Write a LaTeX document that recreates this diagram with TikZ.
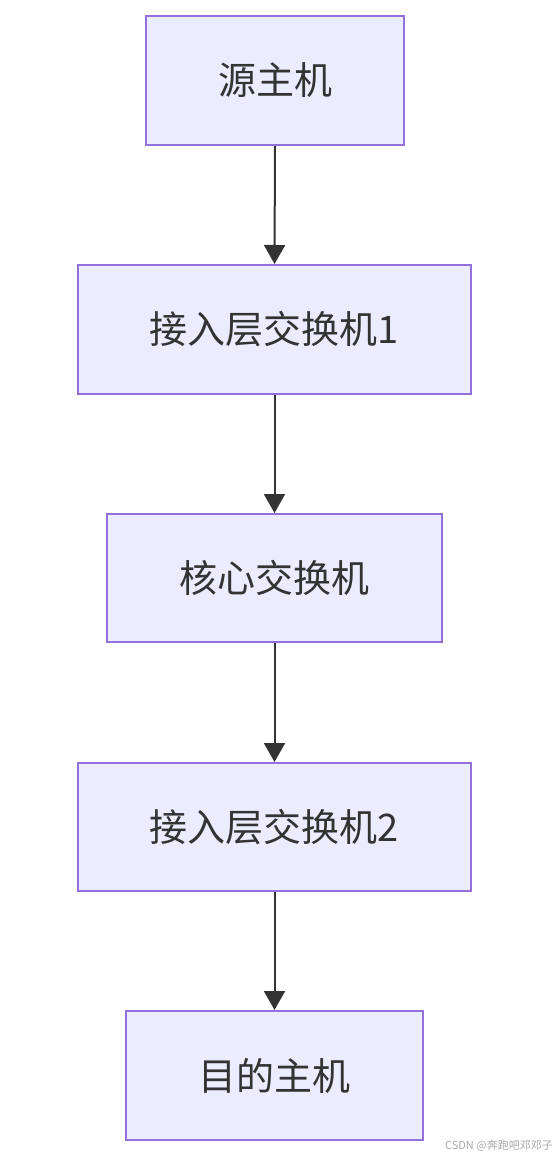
\documentclass[tikz,border=0pt]{standalone}
\usepackage{fontspec}
\setmainfont{Noto Sans CJK SC}
\usetikzlibrary{arrows.meta}
\definecolor{boxfill}{HTML}{ECECFF}
\definecolor{boxline}{HTML}{9370DB}
\definecolor{txt}{HTML}{333333}
\definecolor{wm}{HTML}{A8A8A8}
\tikzset{
  nodebox/.style={draw=boxline, fill=boxfill, line width=2pt, text=txt,
    font=\fontsize{38}{42}\selectfont, inner sep=0pt, anchor=north west},
  flow/.style={draw=txt, line width=2pt, -{Triangle[length=19pt,width=21pt]}},
}
\begin{document}
\begin{tikzpicture}[x=1pt,y=-1pt]
\useasboundingbox (0,0) rectangle (557,1158);
\node[nodebox, minimum width=258pt, minimum height=129pt] (a) at (145,15) {源主机};
\node[nodebox, minimum width=393pt, minimum height=129pt] (b) at (77,264) {接入层交换机1};
\node[nodebox, minimum width=335pt, minimum height=128pt] (c) at (106,513) {核心交换机};
\node[nodebox, minimum width=393pt, minimum height=128pt] (d) at (77,762) {接入层交换机2};
\node[nodebox, minimum width=297pt, minimum height=129pt] (e) at (125,1010) {目的主机};
\draw[flow] (a.south) -- (b.north);
\draw[flow] (b.south) -- (c.north);
\draw[flow] (c.south) -- (d.north);
\draw[flow] (d.south) -- (e.north);
\node[anchor=east, text=wm, font=\fontsize{11}{13}\selectfont, inner sep=0pt] (w) at (553,1146) {CSDN @奔跑吧邓邓子};
\end{tikzpicture}
\end{document}
